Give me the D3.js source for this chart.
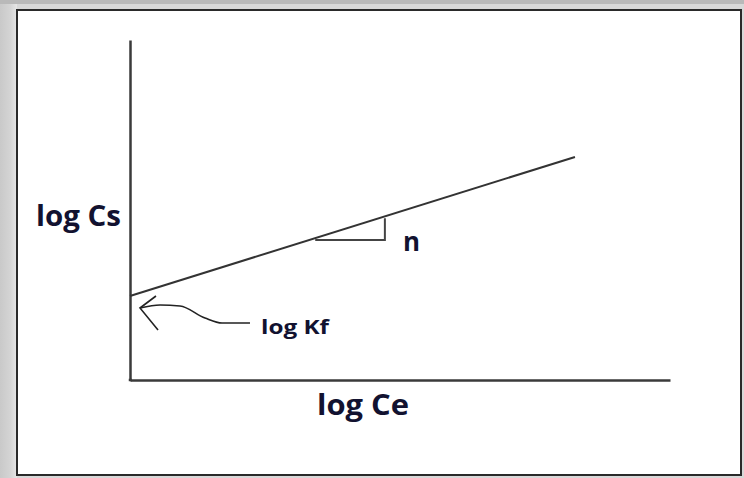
<!DOCTYPE html>
<html><head><meta charset="utf-8">
<script src="https://cdn.jsdelivr.net/npm/d3@7"></script>
<style>html,body{margin:0;padding:0;background:#fff;}svg{display:block;}</style>
</head><body>
<svg id="c" width="744" height="478"></svg>
<script>
// Data (data space: x and y from 0 to 10)
const xDomain = [0, 10];
const yDomain = [0, 10];
const lineX = [0, 8.24];
const lineY = [2.47, 6.56];
const triX = [3.43, 4.72, 4.72];
const triY = [4.12, 4.12, 4.76];
const arrowX = [0.185, 0.556, 0.926, 1.389, 1.704, 2.222];
const arrowY = [2.118, 2.206, 2.176, 1.824, 1.676, 1.676];
const barbX = [0.481, 0.185, 0.519];
const barbY = [2.471, 2.118, 1.471];
const labels = { y: "log Cs", x: "log Ce", intercept: "log Kf", slope: "n" };

const svg = d3.select("#c");
const g0 = svg.append("g");
const grad = svg.append("defs").append("linearGradient").attr("id","lg").attr("x1",0).attr("x2",1);
grad.append("stop").attr("offset","0").attr("stop-color","#c9c9c9");
grad.append("stop").attr("offset","0.6").attr("stop-color","#d4d4d4");
grad.append("stop").attr("offset","1").attr("stop-color","#e6e6e6");
g0.append("rect").attr("x",0).attr("y",0).attr("width",744).attr("height",478).attr("fill","#d8d8d8");
g0.append("rect").attr("x",0).attr("y",0).attr("width",17).attr("height",478).attr("fill","url(#lg)");
g0.append("rect").attr("x",0).attr("y",0).attr("width",744).attr("height",4).attr("fill","#b9b9b9");
g0.append("rect").attr("x",17).attr("y",10).attr("width",724).attr("height",465)
  .attr("fill","#fff").attr("stroke","#2a2a2a").attr("stroke-width",2);

const x = d3.scaleLinear().domain(xDomain).range([130, 670]);
const y = d3.scaleLinear().domain(yDomain).range([380, 40]);

const gx = svg.append("g").attr("transform", `translate(0,${y(0)})`)
  .call(d3.axisBottom(x).tickValues([]).tickSizeOuter(0));
const gy = svg.append("g").attr("transform", `translate(${x(0)},0)`)
  .call(d3.axisLeft(y).tickValues([]).tickSizeOuter(0));
[gx, gy].forEach(g => g.select(".domain").attr("stroke","#3a3a3a").attr("stroke-width",2.5));
svg.append("line").attr("x1",x(0)-1.25).attr("x2",x(0)+2).attr("y1",y(0)).attr("y2",y(0))
  .attr("stroke","#3a3a3a").attr("stroke-width",2.5);

const ln = d3.line().x(d => x(d[0])).y(d => y(d[1]));
svg.append("path").attr("d", ln(d3.zip(lineX, lineY)))
  .attr("fill","none").attr("stroke","#333").attr("stroke-width",2);
svg.append("path").attr("d", ln(d3.zip(triX, triY)))
  .attr("fill","none").attr("stroke","#444").attr("stroke-width",2);

const lc = d3.line().x(d => x(d[0])).y(d => y(d[1])).curve(d3.curveMonotoneX);
svg.append("path").attr("d", lc(d3.zip(arrowX, arrowY)))
  .attr("fill","none").attr("stroke","#222").attr("stroke-width",1.6);
svg.append("path").attr("d", ln(d3.zip(barbX, barbY)))
  .attr("fill","none").attr("stroke","#222").attr("stroke-width",1.6);

const font = "'Open Sans', 'DejaVu Sans', sans-serif";
svg.append("text").attr("x",36).attr("y",226).attr("font-family",font).attr("font-weight",700)
  .attr("font-size",29).attr("fill","#121230").attr("textLength",85).attr("lengthAdjust","spacingAndGlyphs").text(labels.y);
svg.append("text").attr("x",317).attr("y",415).attr("font-family",font).attr("font-weight",700)
  .attr("font-size",29).attr("fill","#121230").attr("textLength",92).attr("lengthAdjust","spacingAndGlyphs").text(labels.x);
svg.append("text").attr("x",261).attr("y",334).attr("font-family",font).attr("font-weight",700)
  .attr("font-size",19).attr("fill","#121230").attr("textLength",68).attr("lengthAdjust","spacingAndGlyphs").text(labels.intercept);
svg.append("text").attr("x",403).attr("y",251).attr("font-family",font).attr("font-weight",700)
  .attr("font-size",27).attr("fill","#121230").attr("textLength",17).attr("lengthAdjust","spacingAndGlyphs").text(labels.slope);
</script>
</body></html>
